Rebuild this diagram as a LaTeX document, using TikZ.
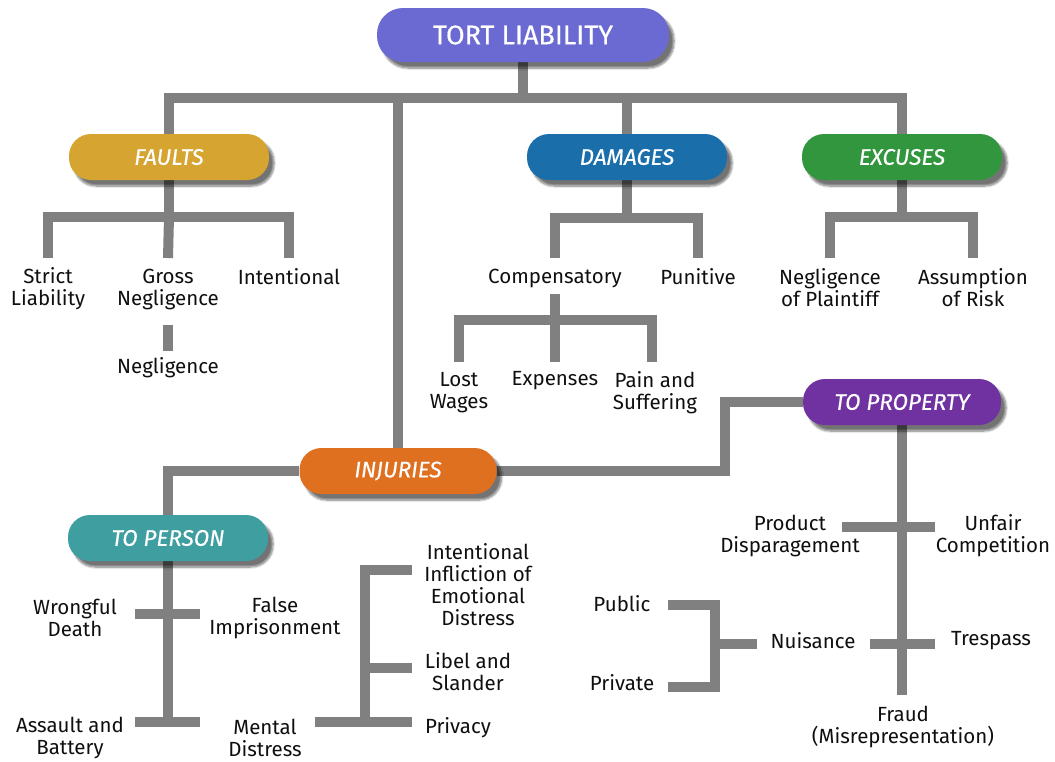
\documentclass[tikz,border=0pt]{standalone}
\usepackage{fontspec}
\setmainfont{Fira Sans}
\newfontfamily\pillfont[FakeBold=0.4]{Fira Sans}
\usetikzlibrary{shadows.blur,backgrounds,calc}
\definecolor{ctort}{RGB}{106,106,210}
\definecolor{cfault}{RGB}{214,164,48}
\definecolor{cdam}{RGB}{26,110,170}
\definecolor{cexc}{RGB}{50,150,62}
\definecolor{cinj}{RGB}{222,112,32}
\definecolor{cpers}{RGB}{62,158,160}
\definecolor{cprop}{RGB}{112,50,160}
\definecolor{barc}{RGB}{128,128,128}
\definecolor{txt}{RGB}{15,15,15}
\tikzset{
  pill/.style={rectangle, rounded corners=22pt, minimum width=200pt, minimum height=46pt,
    inner sep=0pt, text=white, font=\pillfont\fontsize{22.5}{24}\selectfont\itshape,
    blur shadow={shadow xshift=5pt, shadow yshift=-6pt, shadow opacity=55, shadow blur steps=8}},
  lbl/.style={align=center, inner sep=0pt, text=txt, font=\fontsize{20.5}{22}\selectfont},
  bar/.style={draw=barc, line width=10pt, line join=miter, line cap=butt},
}
\begin{document}
\begin{tikzpicture}[x=1pt,y=-1pt]
\useasboundingbox (0,0) rectangle (1055,761);
% main boxes
\node[pill, fill=ctort, minimum width=292pt, minimum height=54pt, rounded corners=26pt,
  font=\pillfont\fontsize{27}{29}\selectfont] (tort) at (523,35) {TORT LIABILITY};
\node[pill, fill=cfault] (faults) at (169,157) {FAULTS};
\node[pill, fill=cdam] (damages) at (627,157) {DAMAGES};
\node[pill, fill=cexc] (excuses) at (902,157) {EXCUSES};
\node[pill, fill=cinj, minimum width=197pt] (injuries) at (398,471) {INJURIES};
\node[pill, fill=cprop, minimum width=198pt] (toproperty) at (902,402) {TO PROPERTY};
\node[pill, fill=cpers] (toperson) at (168,538) {TO PERSON};
% labels
\node[lbl] (strict) at (48,289) {Strict\\Liability};
\node[lbl] (gross) at (168,289) {Gross\\Negligence};
\node[lbl] (intent) at (289,277) {Intentional};
\node[lbl] (negl) at (168,368) {Negligence};
\node[lbl] (comp) at (555,278) {Compensatory};
\node[lbl] (punitive) at (698,277) {Punitive};
\node[lbl] (lost) at (459,393) {Lost\\Wages};
\node[lbl] (expenses) at (555,381) {Expenses};
\node[lbl] (pain) at (655,393) {Pain and\\Suffering};
\node[lbl] (neglpl) at (830,288) {Negligence\\of Plaintiff};
\node[lbl] (assump) at (973,288) {Assumption\\of Risk};
\node[lbl] (wrongful) at (75,618) {Wrongful\\Death};
\node[lbl] (false) at (275,618) {False\\Imprisonment};
\node[lbl] (assault) at (70,738) {Assault and\\Battery};
\node[lbl] (mental) at (265,738) {Mental\\Distress};
\node[lbl] (iied) at (478,585) {Intentional\\Infliction of\\Emotional\\Distress};
\node[lbl] (libel) at (468,672) {Libel and\\Slander};
\node[lbl] (privacy) at (458,728) {Privacy};
\node[lbl] (product) at (790,536) {Product\\Disparagement};
\node[lbl] (unfair) at (993,536) {Unfair\\Competition};
\node[lbl] (nuisance) at (813,641) {Nuisance};
\node[lbl] (trespass) at (991,641) {Trespass};
\node[lbl] (public) at (622,604) {Public};
\node[lbl] (private) at (622,683) {Private};
\node[lbl] (fraud) at (903,727) {Fraud\\(Misrepresentation)};
% junction coordinates
\coordinate (tb) at (523,98);
\coordinate (fb) at (169,217);
\coordinate (db) at (627,218);
\coordinate (eb) at (902,217);
\coordinate (cb) at (555,320);
\coordinate (row1) at (0,258);
\coordinate (row2) at (0,362);
\coordinate (pj) at (725,440);
\coordinate (pb) at (168,722);
\coordinate (wdL) at (135,614);
\coordinate (wdR) at (200,614);
\coordinate (abL) at (135,722);
\coordinate (abR) at (200,722);
\coordinate (mdL) at (315,722);
\coordinate (mdR) at (412,722);
\coordinate (mj) at (365,722);
\coordinate (iiedE) at (412,570);
\coordinate (lbL) at (365,668);
\coordinate (lbR) at (412,668);
\coordinate (fraudtop) at (902,695);
\coordinate (pdL) at (842,527);
\coordinate (pdR) at (935,527);
\coordinate (nuR) at (870,644);
\coordinate (tpR) at (935,644);
\coordinate (nuL) at (757,644);
\coordinate (nj) at (715,644);
\coordinate (pubE) at (668,605);
\coordinate (nbot) at (715,687);
\coordinate (privE) at (668,687);
\begin{scope}[on background layer]
\draw[bar] (tort.south) -- (tb);
\draw[bar] (faults.north) |- (tb) -| (excuses.north);
\draw[bar] (damages.north) -- (damages.north |- tb);
\draw[bar] (injuries.north) -- (injuries.north |- tb);
% faults
\draw[bar] (faults.south) -- (fb);
\draw[bar] (strict.north |- row1) |- (fb) -| (intent.north |- row1);
\draw[bar] (fb) -- (gross.north |- row1);
\draw[bar] ([yshift=-15pt]gross.south) -- ([yshift=7pt]negl.north);
% damages
\draw[bar] (damages.south) -- (db);
\draw[bar] (comp.north |- row1) |- (db) -| (punitive.north |- row1);
\draw[bar] ([yshift=-6pt]comp.south) -- (expenses.north |- row2);
\draw[bar] (lost.north |- row2) |- (cb) -| ([xshift=-3pt]pain.north |- row2);
% excuses
\draw[bar] (excuses.south) -- (eb);
\draw[bar] (neglpl.north |- row1) |- (eb) -| (assump.north |- row1);
% injuries
\draw[bar] (injuries.west) -| (toperson.north);
\draw[bar] (injuries.east) -| (pj) |- (toproperty.west);
% to person
\draw[bar] (toperson.south) -- (pb);
\draw[bar] (wdL) -- (wdR);
\draw[bar] (abL) -- (abR);
\draw[bar] (mdL) -- (mdR);
\draw[bar] (iiedE) -| (mj);
\draw[bar] (lbL) -- (lbR);
% to property
\draw[bar] (toproperty.south) -- (fraudtop);
\draw[bar] (pdL) -- (pdR);
\draw[bar] (nuR) -- (tpR);
\draw[bar] (nuL) -- (nj);
\draw[bar] (pubE) -| (nbot) -- (privE);
\end{scope}
\end{tikzpicture}
\end{document}
